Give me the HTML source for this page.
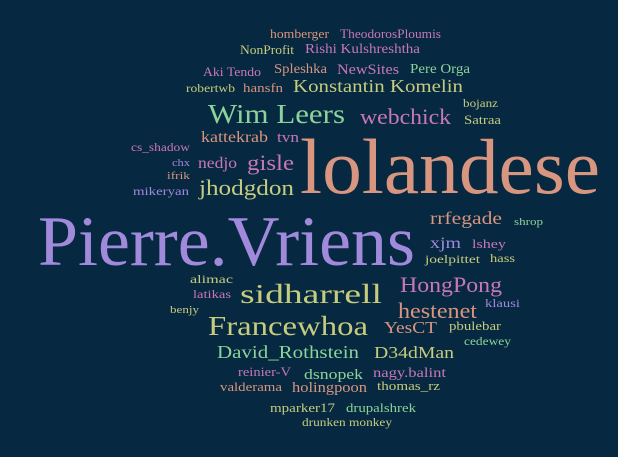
<!DOCTYPE html>
<html><head><meta charset="utf-8"><style>
html,body{margin:0;padding:0;background:#062840;}
svg{display:block}
svg text{font-family:"Liberation Serif","Times New Roman",serif;}
</style></head><body>
<svg id="cloud" width="618" height="457" viewBox="0 0 618 457" xmlns="http://www.w3.org/2000/svg">
<rect width="618" height="457" fill="#062840"/>
</svg>
<script>
const words = ["homberger","TheodorosPloumis","NonProfit","Rishi Kulshreshtha","Aki Tendo","Spleshka","NewSites","Pere Orga","robertwb","hansfn","Konstantin Komelin","bojanz","Wim Leers","webchick","Satraa","kattekrab","tvn","cs_shadow","lolandese","chx","nedjo","gisle","ifrik","jhodgdon","mikeryan","Pierre.Vriens","rrfegade","shrop","xjm","lshey","hass","joelpittet","alimac","sidharrell","HongPong","latikas","klausi","benjy","hestenet","Francewhoa","YesCT","pbulebar","cedewey","David_Rothstein","D34dMan","reinier-V","dsnopek","nagy.balint","valderama","holingpoon","thomas_rz","mparker17","drupalshrek","drunken monkey"];
const colorIdx = [0,1,2,1,1,0,1,3,2,0,2,2,3,1,2,0,1,1,0,4,1,1,0,2,4,4,0,3,4,1,2,2,2,2,1,1,4,2,0,2,0,2,3,3,2,1,3,1,0,0,2,2,3,2];
const sizes = [13,13,13,14,13,14,15,14,12,13,18,12,27,22,13,16,15,12,78,11,16,22,11,22,12,71,18,11,16,13,12,12,12,27,22,12,12,11,22,27,17,13,12,18,17,13,15,14,13,15,13,13,13,12];
const xs = [270,340,240,305,203,274,337,410,186,243,293,463,208,360,464,201,277,131,300,172,198,247,167,199,133,38,430,514,430,472,490,425,190,240,400,193,485,170,398,208,384,449,464,217,374,238,304,373,220,292,377,270,346,302];
const ys = [38,38,54,53,76,73,74,73,92,92,92,107,123,124,124,142,142,151,193,166,168,170,179,195,195,265,224,225,248,248,262,263,283,303,292,298,307,313,318,335,333,330,345,358,358,376,379,377,391,392,390,412,412,426];
const widths = [59,101,54,115,58,53,62,60,49,40,170,35,137,91,37,67,22,59,300,18,39,47,23,95,56,377,72,29,31,34,25,55,43,142,102,38,35,29,79,160,53,52,47,142,80,53,59,73,62,75,63,65,70,90];
const palette = ["#d8957f","#c877b9","#c6cc7e","#8cd39a","#a189dc"];
const svg = document.getElementById('cloud');
const NS = "http://www.w3.org/2000/svg";
for (let i = 0; i < words.length; i++) {
  const t = document.createElementNS(NS, 'text');
  
  
  t.setAttribute('x', xs[i]);
  t.setAttribute('y', ys[i]);
  t.setAttribute('font-family', '"Liberation Serif", "Times New Roman", serif');
  t.setAttribute('font-size', sizes[i]);
  t.setAttribute('fill', palette[colorIdx[i]]);
  t.setAttribute('textLength', widths[i]);
  t.setAttribute('lengthAdjust', 'spacingAndGlyphs');
  t.textContent = words[i];
  svg.appendChild(t);
}
</script>
</body></html>
